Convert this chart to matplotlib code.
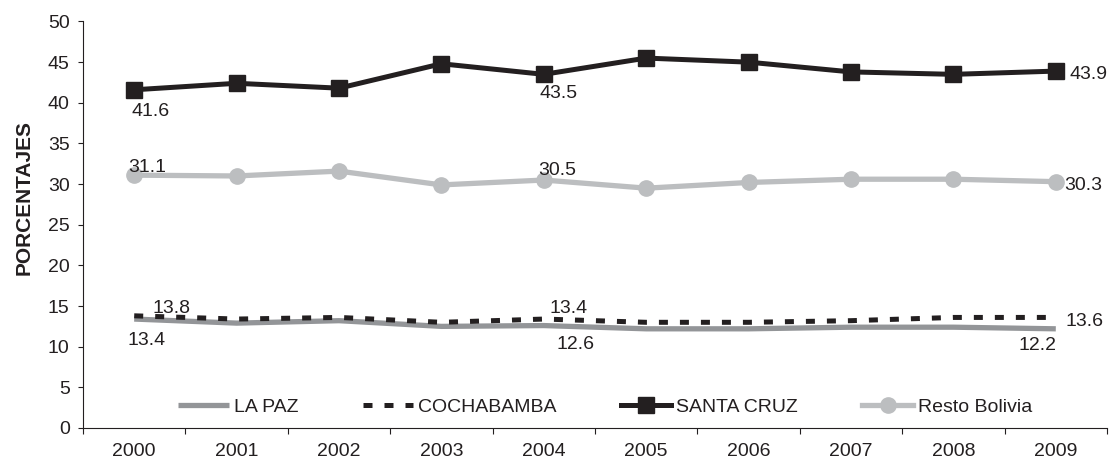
import matplotlib.pyplot as plt
import numpy as np

plt.rcParams['font.family'] = ['Liberation Sans', 'DejaVu Sans']

years = ['2000', '2001', '2002', '2003', '2004', '2005', '2006', '2007', '2008', '2009']
la_paz = [13.4, 12.9, 13.2, 12.5, 12.6, 12.2, 12.2, 12.4, 12.4, 12.2]
cochabamba = [13.8, 13.4, 13.6, 13.0, 13.4, 13.0, 13.0, 13.2, 13.6, 13.6]
santa_cruz = [41.6, 42.4, 41.8, 44.8, 43.5, 45.5, 45.0, 43.8, 43.5, 43.9]
resto = [31.1, 31.0, 31.6, 29.9, 30.5, 29.5, 30.2, 30.6, 30.6, 30.3]

x = np.arange(len(years))
ink = '#231f20'

fig = plt.figure(figsize=(11.14, 4.62), dpi=100)
ax = fig.add_axes([83 / 1114, 1 - 428 / 462, 1024 / 1114, 406.5 / 462])

ax.plot(x, la_paz, color='#939598', lw=3.8, label='LA PAZ', solid_capstyle='butt')
ax.plot(x, cochabamba, color=ink, lw=3.6, ls=(0, (1.8, 2.4)), label='COCHABAMBA')
ax.plot(x, santa_cruz, color=ink, lw=3.6, marker='s', ms=12, label='SANTA CRUZ')
ax.plot(x, resto, color='#bcbec0', lw=3.8, marker='o', ms=11, label='Resto Bolivia')

fs = 14
px = 0.72  # pixels -> points at dpi 100

# (series, index, dx px, dy px, ha) - dy is baseline offset from the point
labels = [
    (santa_cruz, 0, -3, -26, 'left'), (santa_cruz, 4, -4, -24, 'left'), (santa_cruz, 9, 14, -8, 'left'),
    (resto, 0, -6, 3, 'left'), (resto, 4, -6, 5, 'left'), (resto, 9, 8, -8, 'left'),
    (cochabamba, 0, 18, 3, 'left'), (cochabamba, 4, 6, 6, 'left'), (cochabamba, 9, 10, -9, 'left'),
    (la_paz, 0, -7, -26, 'left'), (la_paz, 4, 13, -23, 'left'), (la_paz, 9, 1, -21, 'right'),
]
for ser, i, dx, dy, ha in labels:
    ax.annotate(f'{ser[i]:.1f}', (x[i], ser[i]), xytext=(dx * px, dy * px), textcoords='offset points',
                ha=ha, va='baseline', fontsize=fs, color=ink)

ax.set_xlim(-0.5, len(years) - 0.5)
ax.set_ylim(0, 50)
ax.set_yticks(np.arange(0, 51, 5))
ax.set_xticks(np.arange(-0.5, len(years), 1))
ax.set_xticklabels([])
ax.set_xticks(x, minor=True)
ax.set_xticklabels(years, minor=True)
ax.tick_params(axis='x', which='minor', length=0, pad=11, labelsize=fs, colors=ink)
ax.tick_params(axis='x', which='major', length=4.5, direction='out', color=ink)
ax.tick_params(axis='y', length=3.6, direction='out', labelsize=fs, pad=6, color=ink, labelcolor=ink)
for s in ['top', 'right']:
    ax.spines[s].set_visible(False)
for s in ['left', 'bottom']:
    ax.spines[s].set_color(ink)
ax.set_ylabel('PORCENTAJES', fontsize=15, fontweight='bold', color=ink)
ax.yaxis.set_label_coords(-0.048, 0.566)

ax.legend(loc='center', bbox_to_anchor=(0.51, 0.052), ncol=4, frameon=False, fontsize=fs,
          handlelength=2.6, handletextpad=0.26, columnspacing=3.3, labelcolor=ink)

fig.savefig('out.png', dpi=100)
